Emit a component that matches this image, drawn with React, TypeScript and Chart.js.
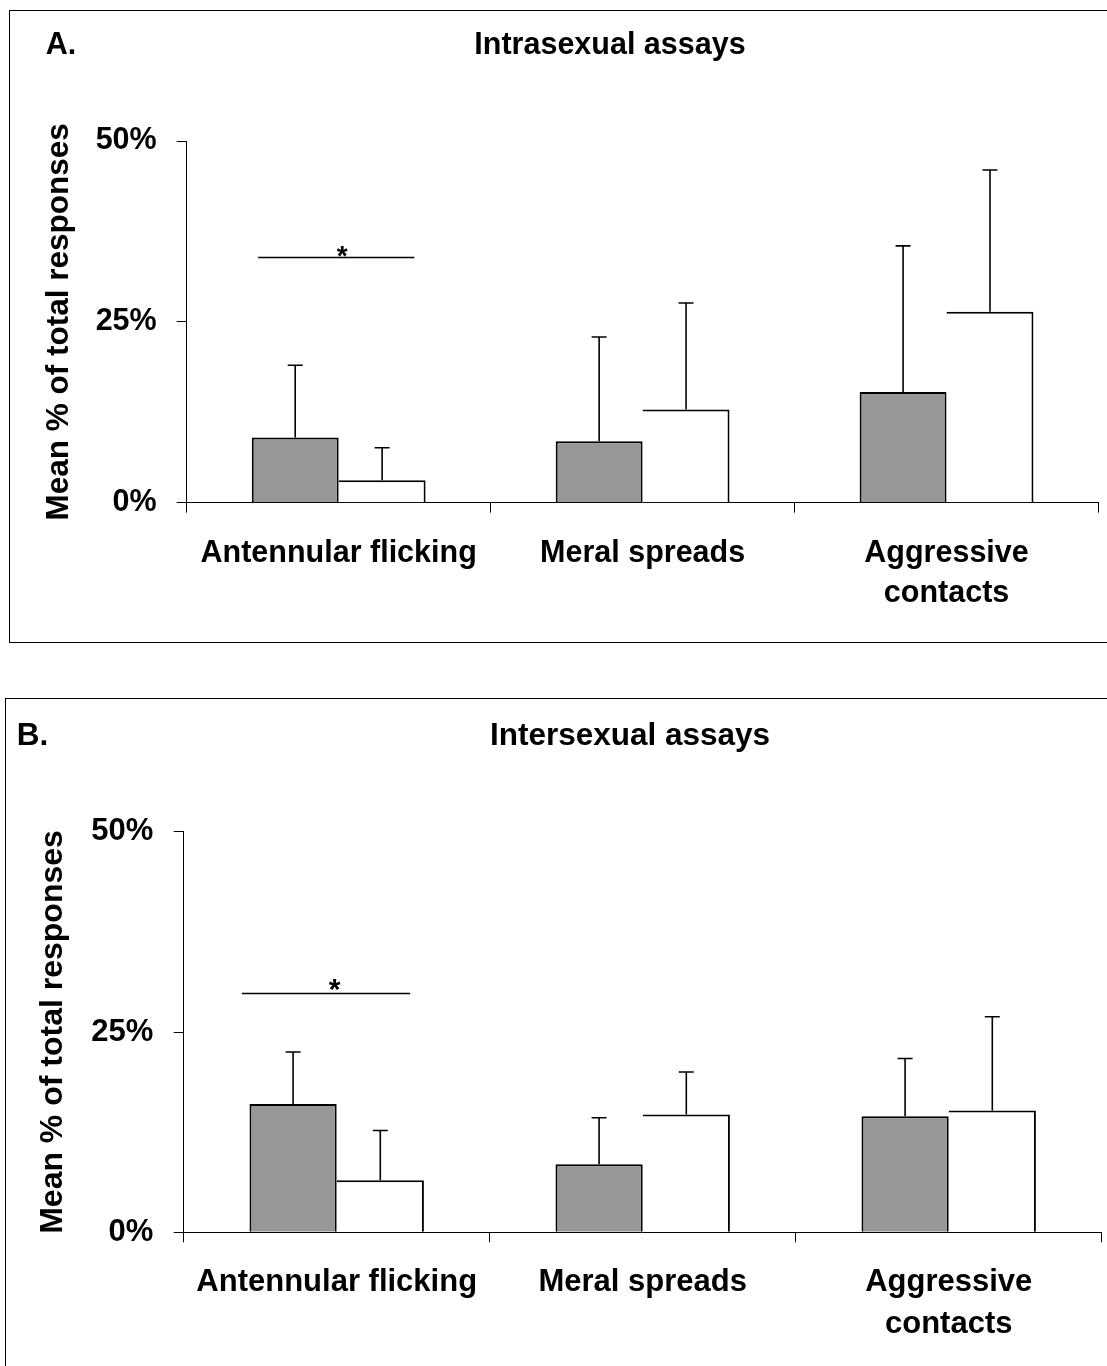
import React, { useEffect, useRef } from "react";
import { Chart, registerables } from "chart.js";

Chart.register(...registerables);

// ---------- data ----------
const categories: (string | string[])[] = [
  "Antennular flicking",
  "Meral spreads",
  ["Aggressive", "contacts"],
];
const yTickValues = [0, 25, 50];
const yAxisTitle = "Mean % of total responses";

// Panel A: intrasexual assays
const intraGray = [9.0, 8.5, 15.3];
const intraGrayErr = [10.0, 14.4, 20.2];
const intraWhite = [3.1, 12.9, 26.4];
const intraWhiteErr = [4.5, 14.7, 19.6];
const intraSignificance = 33.9;

// Panel B: intersexual assays
const interGray = [16.0, 8.5, 14.5];
const interGrayErr = [6.5, 5.8, 7.2];
const interWhite = [6.5, 14.7, 15.2];
const interWhiteErr = [6.2, 5.3, 11.7];
const interSignificance = 29.8;

const FAMILY = "'Liberation Sans', Arial, Helvetica, sans-serif";

type PanelCfg = {
  letter: string;
  title: string;
  gray: number[];
  grayErr: number[];
  white: number[];
  whiteErr: number[];
  sig: number;
  top: number;
  height: number;
  padTop: number;
  padBottom: number;
  padRight: number;
  yWidth: number;
  xHeight: number;
  font: number;
  titleFont: number;
  yTitleFont: number;
  yTitlePad: number;
  lineHeight: number;
  xTickPad: number;
  yTickPad: number;
  titleX: number;
  titleY: number;
  letterX: number;
  sigLeft: number;
  sigRight: number;
  starFont: number;
  starDx: number;
  starDy: number;
  catPct: number;
};

const panelA: PanelCfg = {
  letter: "A.",
  title: "Intrasexual assays",
  gray: intraGray,
  grayErr: intraGrayErr,
  white: intraWhite,
  whiteErr: intraWhiteErr,
  sig: intraSignificance,
  top: 0,
  height: 660,
  padTop: 141,
  padBottom: 17.3,
  padRight: 8.5,
  yWidth: 186.7,
  xHeight: 140,
  font: 30.5,
  titleFont: 30.5,
  yTitleFont: 31.5,
  yTitlePad: 40,
  lineHeight: 40,
  xTickPad: 20.4,
  yTickPad: 20,
  titleX: 610,
  titleY: 45.3,
  letterX: 45.7,
  sigLeft: 0.265,
  sigRight: 0.249,
  starFont: 28,
  starDx: 3.5,
  starDy: 8.0,
  catPct: 0.572,
};

const panelB: PanelCfg = {
  letter: "B.",
  title: "Intersexual assays",
  gray: interGray,
  grayErr: interGrayErr,
  white: interWhite,
  whiteErr: interWhiteErr,
  sig: interSignificance,
  top: 680,
  height: 686,
  padTop: 151.7,
  padBottom: 13.7,
  padRight: 5.3,
  yWidth: 183.7,
  xHeight: 120,
  font: 31,
  titleFont: 31.5,
  yTitleFont: 32,
  yTitlePad: 34,
  lineHeight: 41.6,
  xTickPad: 19.6,
  yTickPad: 20.4,
  titleX: 630,
  titleY: 56.7,
  letterX: 16.7,
  sigLeft: 0.31,
  sigRight: 0.24,
  starFont: 30,
  starDx: -2,
  starDy: 5.0,
  catPct: 0.57,
};

function makeDecoPlugin(p: PanelCfg) {
  const errs = [p.grayErr, p.whiteErr];
  const vals = [p.gray, p.white];
  return {
    id: "panelDeco",
    afterDatasetsDraw(chart: any) {
      const ctx = chart.ctx as CanvasRenderingContext2D;
      const yScale = chart.scales.y;
      const xScale = chart.scales.x;
      ctx.save();
      ctx.strokeStyle = "#000";
      ctx.lineWidth = 1.6;
      // error bars (upper only)
      for (let d = 0; d < 2; d++) {
        const meta = chart.getDatasetMeta(d);
        meta.data.forEach((el: any, i: number) => {
          const x = el.x;
          const y0 = yScale.getPixelForValue(vals[d][i]);
          const y1 = yScale.getPixelForValue(vals[d][i] + errs[d][i]);
          ctx.beginPath();
          ctx.moveTo(x, y0);
          ctx.lineTo(x, y1);
          ctx.moveTo(x - 7.5, y1);
          ctx.lineTo(x + 7.5, y1);
          ctx.stroke();
        });
      }
      // significance bar over first category
      const c0 = xScale.getPixelForValue(0);
      const cw = xScale.getPixelForValue(1) - c0;
      const ys = yScale.getPixelForValue(p.sig);
      ctx.lineWidth = 1.5;
      ctx.beginPath();
      ctx.moveTo(c0 - p.sigLeft * cw, ys);
      ctx.lineTo(c0 + p.sigRight * cw, ys);
      ctx.stroke();
      ctx.fillStyle = "#000";
      ctx.font = `bold ${p.starFont}px ${FAMILY}`;
      ctx.textAlign = "center";
      ctx.textBaseline = "alphabetic";
      ctx.fillText("*", c0 + p.starDx, ys + p.starDy);
      ctx.restore();
    },
    afterDraw(chart: any) {
      const ctx = chart.ctx as CanvasRenderingContext2D;
      ctx.save();
      ctx.fillStyle = "#000";
      ctx.textBaseline = "middle";
      ctx.font = `bold ${p.titleFont}px ${FAMILY}`;
      ctx.textAlign = "center";
      ctx.fillText(p.title, p.titleX, p.titleY);
      ctx.textAlign = "left";
      ctx.fillText(p.letter, p.letterX, p.titleY);
      ctx.restore();
    },
  };
}

function Panel({ cfg }: { cfg: PanelCfg }) {
  const ref = useRef<HTMLCanvasElement | null>(null);
  useEffect(() => {
    if (!ref.current) return;
    const tickFont = { family: FAMILY, size: cfg.font, weight: "bold" as const };
    const chart = new Chart(ref.current, {
      type: "bar",
      data: {
        labels: categories as any,
        datasets: [
          {
            label: "gray",
            data: cfg.gray,
            backgroundColor: "#979797",
            borderColor: "#000",
            borderWidth: { top: 2, left: 2, right: 2, bottom: 0 } as any,
            categoryPercentage: cfg.catPct,
            barPercentage: 1,
          },
          {
            label: "white",
            data: cfg.white,
            backgroundColor: "#ffffff",
            borderColor: "#000",
            borderWidth: { top: 2, left: 0, right: 2, bottom: 0 } as any,
            categoryPercentage: cfg.catPct,
            barPercentage: 1,
          },
        ],
      },
      options: {
        animation: false,
        responsive: false,
        devicePixelRatio: 1,
        layout: {
          padding: { left: 0, right: cfg.padRight, top: cfg.padTop, bottom: cfg.padBottom },
        },
        plugins: {
          legend: { display: false },
          tooltip: { enabled: false },
          title: { display: false },
        },
        scales: {
          x: {
            type: "category",
            offset: true,
            grid: {
              display: true,
              offset: true,
              drawOnChartArea: false,
              drawTicks: true,
              tickLength: 10,
              color: "#000",
              lineWidth: 1,
            },
            border: { display: true, color: "#000", width: 1 },
            ticks: {
              color: "#000",
              font: { ...tickFont, lineHeight: `${cfg.lineHeight}px` } as any,
              padding: cfg.xTickPad,
              maxRotation: 0,
              minRotation: 0,
              autoSkip: false,
            },
            afterFit: (s: any) => {
              s.height = cfg.xHeight;
            },
          },
          y: {
            type: "linear",
            min: 0,
            max: 50,
            afterBuildTicks: (s: any) => {
              s.ticks = yTickValues.map((v) => ({ value: v }));
            },
            grid: {
              display: true,
              drawOnChartArea: false,
              drawTicks: true,
              tickLength: 10,
              color: "#000",
              lineWidth: 1,
            },
            border: { display: true, color: "#000", width: 1 },
            ticks: {
              color: "#000",
              font: tickFont,
              padding: cfg.yTickPad,
              callback: (v: any) => `${v}%`,
            },
            title: {
              display: true,
              text: yAxisTitle,
              color: "#000",
              font: { family: FAMILY, size: cfg.yTitleFont, weight: "bold" },
              padding: { top: cfg.yTitlePad, bottom: 0 },
            },
            afterFit: (s: any) => {
              s.width = cfg.yWidth;
            },
          },
        },
      },
      plugins: [makeDecoPlugin(cfg)],
    } as any);
    return () => chart.destroy();
  }, [cfg]);
  return (
    <canvas
      ref={ref}
      width={1107}
      height={cfg.height}
      style={{
        position: "absolute",
        left: 0,
        top: cfg.top,
        width: 1107,
        height: cfg.height,
      }}
    />
  );
}

export default function App() {
  return (
    <div
      style={{
        position: "absolute",
        left: 0,
        top: 0,
        width: 1107,
        height: 1366,
        overflow: "hidden",
        background: "#fff",
      }}
    >
      <div
        style={{
          position: "absolute",
          left: 9,
          top: 10,
          width: 1120,
          height: 633,
          border: "1px solid #000",
          boxSizing: "border-box",
        }}
      />
      <div
        style={{
          position: "absolute",
          left: 5,
          top: 698,
          width: 1120,
          height: 720,
          border: "1px solid #000",
          boxSizing: "border-box",
        }}
      />
      <Panel cfg={panelA} />
      <Panel cfg={panelB} />
    </div>
  );
}
